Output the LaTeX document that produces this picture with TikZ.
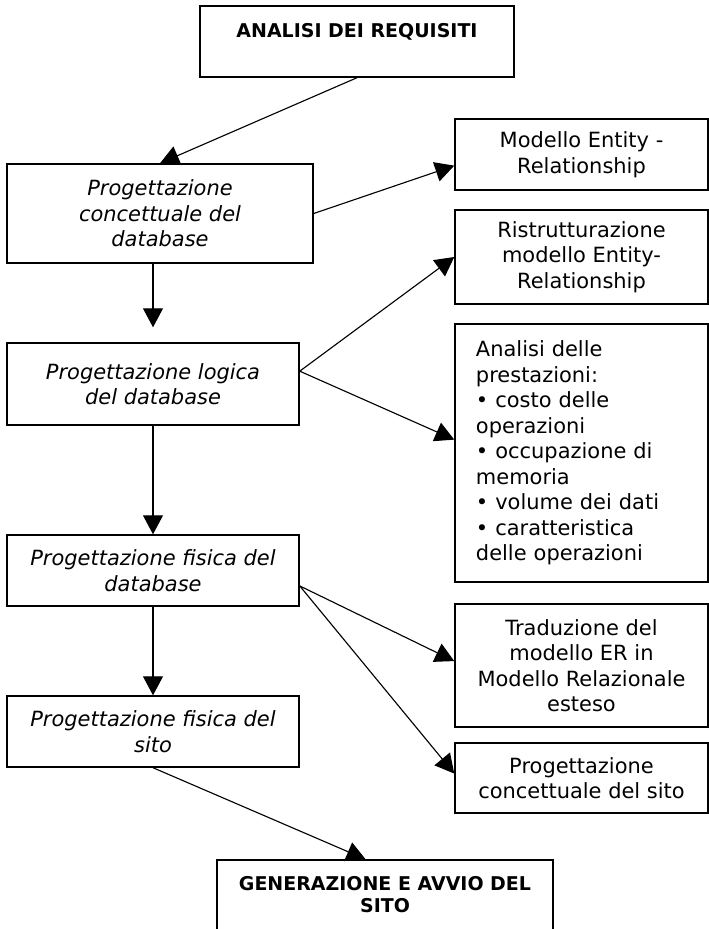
\documentclass[tikz,border=0pt]{standalone}
\usepackage{fontspec}
\setmainfont{DejaVu Sans}
\usetikzlibrary{arrows.meta}
\begin{document}
\begin{tikzpicture}[x=0.025cm,y=-0.025cm,
    blk/.style={draw, line width=1pt, inner sep=2pt, align=center,
      font=\fontsize{14.9}{18.1}\selectfont},
    lft/.style={blk, font=\fontsize{14.9}{18.1}\selectfont\itshape, minimum width=7.3cm},
    rgt/.style={blk, minimum width=6.325cm},
    hdr/.style={blk, font=\fontsize{13.5}{15.6}\selectfont\bfseries},
    arr/.style={-{Triangle[length=0.475cm,width=0.5cm]}, line width=0.8pt}]
      \useasboundingbox (0,0) rectangle (709,929);
      \draw
        (357,41.5) node[hdr, minimum width=7.85cm, minimum height=1.775cm] (req){ANALISI DEI REQUISITI\\\mbox{}}
        (160,213.5) node[lft, minimum width=7.65cm, minimum height=2.475cm] (c1){Progettazione\\concettuale del\\database}
        (153,384) node[lft, minimum height=2.05cm] (lg){Progettazione logica\\del database}
        (153,570.5) node[lft, minimum height=1.775cm] (fd){Progettazione fisica del\\database}
        (153,731.5) node[lft, minimum height=1.775cm] (fs){Progettazione fisica del\\sito}
        (581.5,154.5) node[rgt, minimum height=1.775cm] (er){Modello Entity -\\Relationship}
        (581.5,257) node[rgt, minimum height=2.35cm] (rs){Ristrutturazione\\modello Entity-\\Relationship}
        (581.5,453) node[rgt, minimum height=6.45cm, inner xsep=0.525cm, text width=5.275cm, align=left] (an){Analisi delle\\prestazioni:\\• costo delle\\operazioni\\• occupazione di\\memoria\\• volume dei dati\\• caratteristica\\delle operazioni}
        (581.5,665.5) node[rgt, minimum height=3.075cm] (tr){Traduzione del\\modello ER in\\Modello Relazionale\\esteso}
        (581.5,778) node[rgt, minimum height=1.75cm] (cs){Progettazione\\concettuale del sito}
        (385,905) node[hdr, minimum width=8.4cm, minimum height=2.25cm] (gen){GENERAZIONE E AVVIO DEL\\SITO\\\mbox{}};
      \begin{scope}[arr]
        \draw (req.south) to (c1.north);
        \draw (c1.east) to (er.185);
        \draw[shorten >=0.375cm] (lg.north |- c1.south) to (lg.north);
        \draw (lg.5) to (rs.west);
        \draw (lg.5) to (an.174);
        \draw (lg.south) to (fd.north);
        \draw (fd.354) to (tr.178);
        \draw (fd.354) to (cs.178);
        \draw (fd.south) to (fs.north);
        \draw (fs.south) to (gen.113);
      \end{scope}
    \end{tikzpicture}
\end{document}
